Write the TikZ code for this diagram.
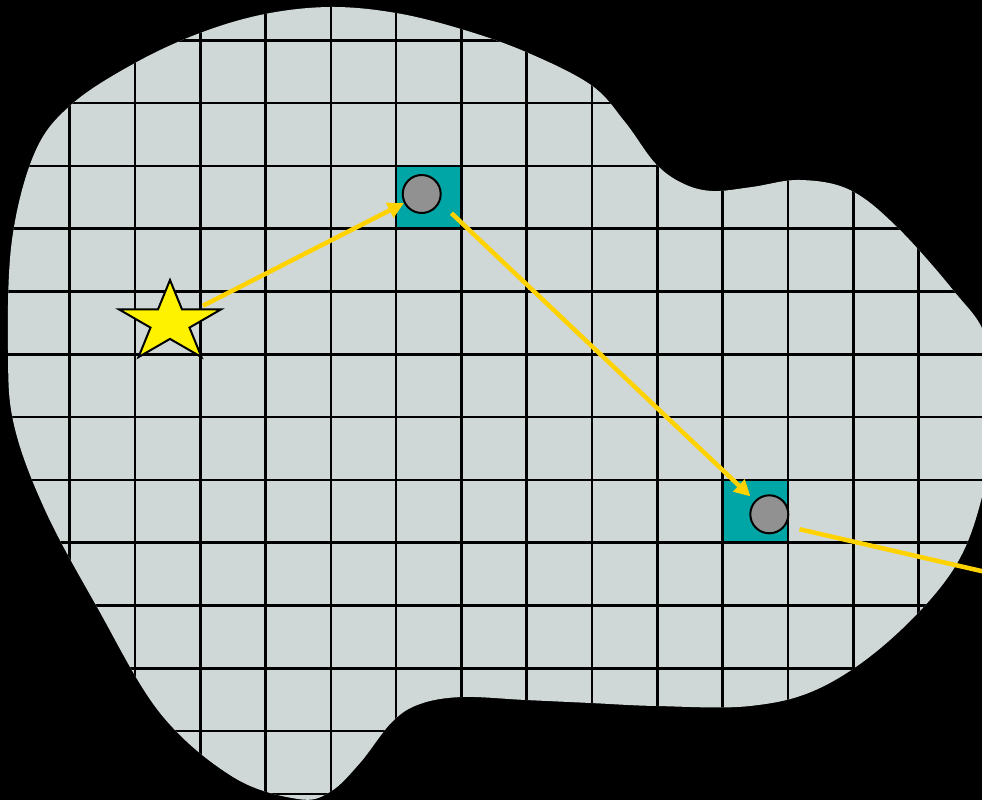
\documentclass[tikz,border=0pt]{standalone}
\usepackage{tikz}
\usetikzlibrary{arrows.meta,calc}

\definecolor{blobgray}{RGB}{207,216,215}
\definecolor{hitteal}{RGB}{0,165,165}
\definecolor{raygold}{RGB}{255,210,0}
\definecolor{ballgray}{RGB}{145,145,145}

\begin{document}
\begin{tikzpicture}[x=1pt,y=-1pt,
  cellhit/.style={fill=hitteal,minimum width=65.3pt,minimum height=62.8pt,inner sep=0pt},
  ball/.style={circle,draw,line width=2pt,fill=ballgray,minimum size=38pt,inner sep=0pt},
  ray/.style={draw=raygold,line width=4.5pt},
  gridline/.style={line width=2.6pt}]
\useasboundingbox (0,0) rectangle (982,800);
\fill[black] (0,0) rectangle (982,800);
% region with its cells
\begin{scope}
\clip plot[smooth cycle,tension=0.6] coordinates {
  (331,7) (396,13) (461,29) (526,52) (591,85) (625,122) (655,163) (682,183)
  (712,191) (752,187) (800,180) (850,190) (897,227) (953,290) (986,338)
  (994,415) (982,497) (953,570) (890,640) (820,688) (750,706) (657,706)
  (591,703) (526,700) (462,697) (420,704) (392,722) (360,763) (330,792)
  (298,799) (233,777) (160,713) (97,607) (45,510) (14,425) (8,350) (12,240)
  (35,152) (72,104) (135,63) (200,33) (265,14)};
\fill[blobgray] (0,0) rectangle (1000,800);
\node[cellhit] (sq1) at (428.8,197.3) {};
\node[cellhit] (sq2) at (755.2,511.3) {};
\foreach \i in {1,...,14}
  \draw[gridline] ({4.3+65.3*\i},0) -- ({4.3+65.3*\i},800);
\foreach \j in {1,...,13}
  \draw[gridline] (0,{-22.5+62.8*\j}) -- (1000,{-22.5+62.8*\j});
\end{scope}
\node[ball] (p1) at (421.7,194) {};
\node[ball] (p2) at (769.3,514.3) {};
% source
\coordinate (src) at (170,322.6);
\draw[fill=yellow,line width=2pt,line join=miter] (170,280) -- (182,309.4) -- (221,309.4)
  -- (189.5,327.6) -- (201.5,357.1) -- (170,338.9) -- (138.5,357.1)
  -- (150.5,327.6) -- (119,309.4) -- (158,309.4) -- cycle;
\coordinate (exit) at (990,573);
\draw[ray,-{Triangle[length=16pt,width=16pt]},shorten <=37pt] (src) -- (p1);
\draw[ray,-{Triangle[length=16pt,width=16pt]},shorten <=41pt,shorten >=6pt]
  ([yshift=9pt]p1.center) -- (p2);
\draw[ray,shorten <=31pt] ([yshift=-8pt]p2.center) -- (exit);
\end{tikzpicture}
\end{document}
